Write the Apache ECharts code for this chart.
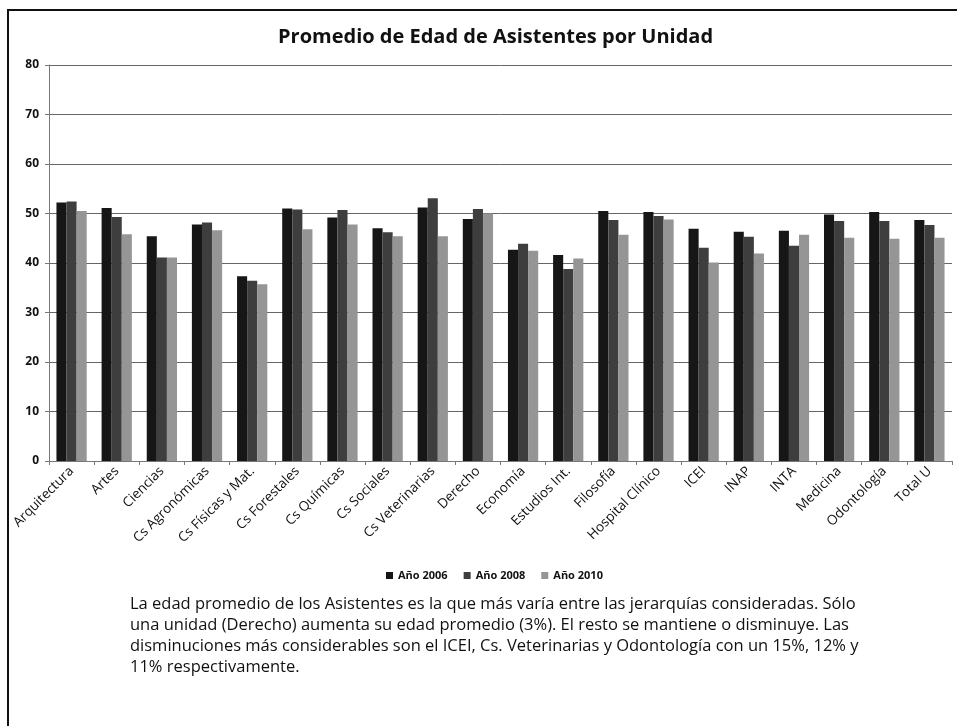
<!DOCTYPE html>
<html>
<head>
<meta charset="utf-8">
<script src="https://cdn.jsdelivr.net/npm/echarts@6/dist/echarts.min.js"></script>
<style>
html,body{margin:0;padding:0;background:#fff;}
#main{width:957px;height:726px;}
</style>
</head>
<body>
<div id="main"></div>
<script>
var categories = ['Arquitectura','Artes','Ciencias','Cs Agronómicas','Cs Físicas y Mat.','Cs Forestales','Cs Químicas','Cs Sociales','Cs Veterinarias','Derecho','Economía','Estudios Int.','Filosofía','Hospital Clínico','ICEI','INAP','INTA','Medicina','Odontología','Total U'];
var anio2006 = [52.2, 51.1, 45.4, 47.8, 37.3, 51.0, 49.2, 47.0, 51.2, 48.9, 42.7, 41.6, 50.5, 50.3, 46.9, 46.3, 46.5, 49.8, 50.3, 48.7];
var anio2008 = [52.4, 49.3, 41.1, 48.2, 36.4, 50.8, 50.7, 46.2, 53.1, 50.9, 43.9, 38.8, 48.7, 49.5, 43.1, 45.3, 43.5, 48.5, 48.5, 47.7];
var anio2010 = [50.5, 45.8, 41.1, 46.6, 35.7, 46.8, 47.8, 45.4, 45.4, 50.0, 42.5, 40.9, 45.7, 48.8, 40.1, 41.9, 45.7, 45.1, 44.9, 45.1];
var yTicks = [0, 10, 20, 30, 40, 50, 60, 70, 80];
var notaLineas = [
    'La edad promedio de los Asistentes es la que más varía entre las jerarquías consideradas. Sólo',
    'una unidad (Derecho) aumenta su edad promedio (3%). El resto se mantiene o disminuye. Las',
    'disminuciones más considerables son el ICEI, Cs. Veterinarias y Odontología con un 15%, 12% y',
    '11% respectivamente.'
];

var myChart = echarts.init(document.getElementById('main'));
var fuente = '"Open Sans", sans-serif';

// texto de la nota bajo el gráfico
var nota = notaLineas.map(function (t, i) {
    return {
        type: 'text',
        left: 130,
        top: 596 + i * 21,
        style: {text: t, font: '16.5px ' + fuente, fill: '#111'}
    };
});

option = {
    animation: false,
    title: {
        text: 'Promedio de Edad de Asistentes por Unidad',
        left: 273,
        top: 22,
        textStyle: {fontFamily: fuente, fontSize: 20, fontWeight: 'bold', color: '#111'}
    },
    legend: {
        bottom: 140,
        left: 381,
        itemWidth: 7,
        itemHeight: 7,
        itemGap: 16,
        icon: 'rect',
        textStyle: {fontFamily: fuente, fontSize: 11, fontWeight: 'bold', color: '#111'},
        data: ['Año 2006', 'Año 2008', 'Año 2010']
    },
    grid: {left: 49, right: 5, top: 65, bottom: 265},
    xAxis: {
        type: 'category',
        data: categories,
        axisLine: {lineStyle: {color: '#777'}},
        axisTick: {show: true, length: 4, lineStyle: {color: '#777'}},
        axisLabel: {rotate: 45, fontFamily: fuente, fontSize: 13.5, color: '#111', interval: 0, margin: 8}
    },
    yAxis: {
        type: 'value',
        min: yTicks[0],
        max: yTicks[yTicks.length - 1],
        interval: 10,
        axisLine: {show: true, lineStyle: {color: '#777'}},
        axisTick: {show: true, length: 4, lineStyle: {color: '#777'}},
        axisLabel: {fontFamily: fuente, fontSize: 12, fontWeight: 'bold', color: '#111', margin: 10},
        splitLine: {lineStyle: {color: '#666', width: 1}}
    },
    series: [
        {name: 'Año 2006', type: 'bar', data: anio2006, barGap: '0%', barCategoryGap: '33%', itemStyle: {color: '#161616'}},
        {name: 'Año 2008', type: 'bar', data: anio2008, itemStyle: {color: '#3e3e3e'}},
        {name: 'Año 2010', type: 'bar', data: anio2010, itemStyle: {color: '#959595'}}
    ],
    graphic: [
        {type: 'rect', shape: {x: 8, y: 10, width: 1000, height: 800}, style: {fill: 'none', stroke: '#111', lineWidth: 2}, z: -1}
    ].concat(nota)
};
myChart.setOption(option);
</script>
</body>
</html>
